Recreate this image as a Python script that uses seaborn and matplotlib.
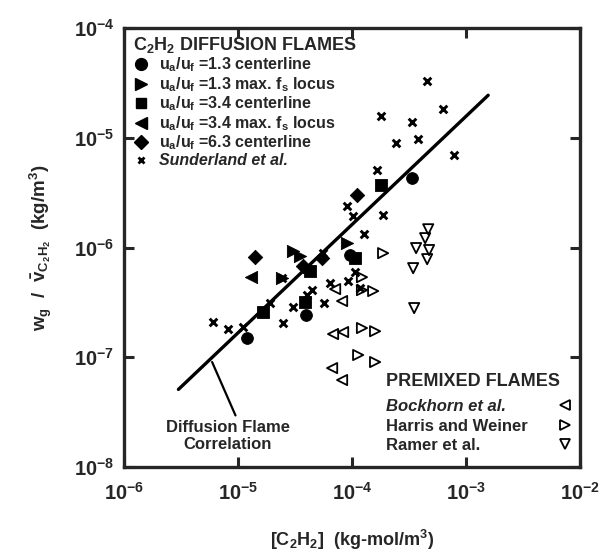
import matplotlib
matplotlib.use("Agg")
import matplotlib.pyplot as plt
import seaborn as sns
import pandas as pd
from matplotlib.lines import Line2D

sns.set_style("ticks")
plt.rcParams.update({
    "font.family": ["Liberation Sans", "DejaVu Sans"],
    "font.weight": "bold",
    "axes.labelweight": "bold",
    "mathtext.fontset": "custom",
    "mathtext.rm": "Liberation Sans:bold",
    "mathtext.bf": "Liberation Sans:bold",
    "mathtext.it": "Liberation Sans:bold:italic",
    "mathtext.sf": "Liberation Sans:bold",
    "mathtext.default": "bf",
})

# ---------------- data ----------------
x_ticks = [1e-6, 1e-5, 1e-4, 1e-3, 1e-2]
x_tick_labels = ["10$^{-6}$", "10$^{-5}$", "10$^{-4}$", "10$^{-3}$", "10$^{-2}$"]
y_ticks = [1e-8, 1e-7, 1e-6, 1e-5, 1e-4]
y_tick_labels = ["10$^{-8}$", "10$^{-7}$", "10$^{-6}$", "10$^{-5}$", "10$^{-4}$"]

c13_center_x = [1.20e-5, 3.94e-5, 9.6e-5, 3.36e-4]
c13_center_y = [1.50e-7, 2.43e-7, 8.55e-7, 4.30e-6]

c13_locus_x = [2.43e-5, 3.03e-5, 3.50e-5, 9.0e-5]
c13_locus_y = [5.27e-7, 9.3e-7, 8.37e-7, 1.10e-6]

c34_center_x = [1.66e-5, 3.87e-5, 4.29e-5, 1.06e-4, 1.80e-4]
c34_center_y = [2.58e-7, 3.19e-7, 6.1e-7, 8.0e-7, 3.71e-6]

c34_locus_x = [1.30e-5]
c34_locus_y = [5.38e-7]

c63_center_x = [1.41e-5, 3.72e-5, 5.46e-5, 1.11e-4]
c63_center_y = [8.19e-7, 6.78e-7, 8.02e-7, 3.01e-6]

sund_x = [6.04e-6, 8.17e-6, 1.11e-5, 1.91e-5, 2.48e-5, 3.03e-5, 4.03e-5, 4.46e-5,
          5.68e-5, 6.41e-5, 9.23e-5, 1.06e-4, 1.17e-4, 2.43e-5, 5.57e-5, 9.0e-5,
          1.02e-4, 1.27e-4, 1.87e-4, 1.66e-4, 1.80e-4, 2.43e-4, 3.36e-4, 3.79e-4,
          4.55e-4, 6.29e-4, 7.85e-4]
sund_y = [2.09e-7, 1.81e-7, 1.89e-7, 3.12e-7, 2.05e-7, 2.87e-7, 3.69e-7, 4.10e-7,
          3.12e-7, 4.75e-7, 4.95e-7, 5.98e-7, 4.28e-7, 5.27e-7, 8.9e-7, 2.39e-6,
          1.94e-6, 1.33e-6, 1.98e-6, 5.08e-6, 1.58e-5, 8.96e-6, 1.39e-5, 9.75e-6,
          3.29e-5, 1.83e-5, 6.97e-6]

bock_x = [7.1e-5, 8.17e-5, 6.81e-5, 8.34e-5, 6.68e-5, 8.17e-5]
bock_y = [4.19e-7, 3.26e-7, 1.63e-7, 1.70e-7, 7.98e-8, 6.21e-8]

harris_x = [1.22e-4, 1.87e-4, 1.22e-4, 1.53e-4, 1.22e-4, 1.59e-4, 1.13e-4, 1.59e-4]
harris_y = [5.38e-7, 8.91e-7, 4.10e-7, 4.02e-7, 1.85e-7, 1.73e-7, 1.05e-7, 9.06e-8]

ramer_x = [4.65e-4, 4.37e-4, 3.64e-4, 4.73e-4, 4.55e-4, 3.43e-4, 3.50e-4]
ramer_y = [1.47e-6, 1.22e-6, 9.9e-7, 9.5e-7, 7.85e-7, 6.5e-7, 2.81e-7]

corr_x = [3.0e-6, 1.56e-3]
corr_y = [5.1e-8, 2.45e-5]
pointer_xy = (5.92e-6, 9.06e-8)

diff_title = "C$_2$H$_2$ DIFFUSION FLAMES"
diff_labels = ["u$_a$/u$_f$ =1.3 centerline", "u$_a$/u$_f$ =1.3 max. f$_s$ locus",
               "u$_a$/u$_f$ =3.4 centerline", "u$_a$/u$_f$ =3.4 max. f$_s$ locus",
               "u$_a$/u$_f$ =6.3 centerline", "Sunderland et al."]
pre_title = "PREMIXED FLAMES"
pre_labels = ["Bockhorn et al.", "Harris and Weiner", "Ramer et al."]

# ---------------- figure ----------------
fig, ax = plt.subplots(figsize=(6.05, 5.54), dpi=100)
fig.subplots_adjust(left=0.205, right=0.959, bottom=0.157, top=0.949)
ax.set_xscale("log")
ax.set_yscale("log")

def df(xs, ys):
    return pd.DataFrame({"conc": xs, "w": ys})

# correlation line
sns.lineplot(data=df(corr_x, corr_y), x="conc", y="w", color="black", lw=2.4,
             ax=ax, legend=False, sort=True, estimator=None)

filled = [
    (c13_center_x, c13_center_y, "o", 72),
    (c13_locus_x, c13_locus_y, ">", 78),
    (c34_center_x, c34_center_y, "s", 64),
    (c34_locus_x, c34_locus_y, "<", 78),
    (c63_center_x, c63_center_y, "D", 54),
]
for xs, ys, m, s in filled:
    sns.scatterplot(data=df(xs, ys), x="conc", y="w", marker=m, s=s, color="black",
                    edgecolor="black", linewidth=0.6, ax=ax, legend=False, zorder=3)

sns.scatterplot(data=df(sund_x, sund_y), x="conc", y="w", marker="x", s=30,
                color="black", edgecolor="black", linewidth=2.1, ax=ax, legend=False,
                zorder=3)

opens = [(bock_x, bock_y, "<"), (harris_x, harris_y, ">"), (ramer_x, ramer_y, "v")]
for xs, ys, m in opens:
    sns.scatterplot(data=df(xs, ys), x="conc", y="w", marker=m, s=54,
                    facecolor="none", edgecolor="black", linewidth=1.3, ax=ax,
                    legend=False, zorder=3)

# axes styling
ax.set_xlim(1e-6, 1e-2)
ax.set_ylim(1e-8, 1e-4)
ax.set_xticks(x_ticks)
ax.set_xticklabels(x_tick_labels)
ax.set_yticks(y_ticks)
ax.set_yticklabels(y_tick_labels)
ax.minorticks_off()
ax.tick_params(which="major", direction="in", length=7, width=2.2,
               top=True, right=True, labelsize=14.5)
ax.tick_params(axis="x", pad=11)
ax.tick_params(axis="y", pad=7)
for sp in ax.spines.values():
    sp.set_linewidth(2.4)
    sp.set_visible(True)

ax.set_xlabel("[C$_2$H$_2$]  (kg-mol/m$^3$)", fontsize=13, labelpad=17)
ax.set_ylabel(r"w$_g$  /  $\bar{v}_{C_2H_2}$  (kg/m$^3$)", fontsize=13.5, labelpad=14)

# annotation of the correlation
ax.annotate("Diffusion Flame\nCorrelation", xy=pointer_xy,
            xytext=(0.227, 0.071), textcoords="axes fraction",
            ha="center", va="center", fontsize=12, fontweight="bold", linespacing=1.15,
            arrowprops=dict(arrowstyle="-", lw=1.6, color="black", relpos=(0.58, 1.0),
                            shrinkA=1, shrinkB=0))

# legend 1: diffusion flames
h1 = [
    Line2D([], [], ls="", marker="o", color="k", markersize=8.5),
    Line2D([], [], ls="", marker=">", color="k", markersize=8.5),
    Line2D([], [], ls="", marker="s", color="k", markersize=7.5),
    Line2D([], [], ls="", marker="<", color="k", markersize=8.5),
    Line2D([], [], ls="", marker="D", color="k", markersize=7),
    Line2D([], [], ls="", marker="x", color="k", markersize=5, mew=2),
]
leg1 = ax.legend(h1, diff_labels, title=diff_title, loc="upper left",
                 bbox_to_anchor=(0.02, 0.985), frameon=False, fontsize=11.5,
                 title_fontproperties={"size": 13, "weight": "bold"},
                 alignment="left", handlelength=1.0, handletextpad=0.6,
                 labelspacing=0.05, borderpad=0, borderaxespad=0)
leg1.get_texts()[5].set_style("italic")
ax.add_artist(leg1)

# legend 2: premixed flames (text part)
h2 = [Line2D([], [], ls="", marker="") for _ in pre_labels]
leg2 = ax.legend(h2, pre_labels, title=pre_title, loc="lower left",
                 bbox_to_anchor=(0.575, 0.032), frameon=False, fontsize=12,
                 title_fontproperties={"size": 13, "weight": "bold"},
                 alignment="left", handlelength=0, handletextpad=0,
                 labelspacing=0.26, borderpad=0, borderaxespad=0)
leg2._legend_box.sep = 6.5
leg2.get_texts()[0].set_style("italic")
ax.add_artist(leg2)

# legend 3: premixed flame markers (right column)
h3 = [Line2D([], [], ls="", marker=m, mfc="none", mec="k", mew=1.3, markersize=7.5)
      for m in ["<", ">", "v"]]
leg3 = ax.legend(h3, ["", "", ""], loc="lower right", bbox_to_anchor=(0.985, 0.032),
                 frameon=False, fontsize=12, handlelength=1.0, handletextpad=0,
                 labelspacing=0.26, borderpad=0, borderaxespad=0)

fig.savefig("out.png", dpi=100)
